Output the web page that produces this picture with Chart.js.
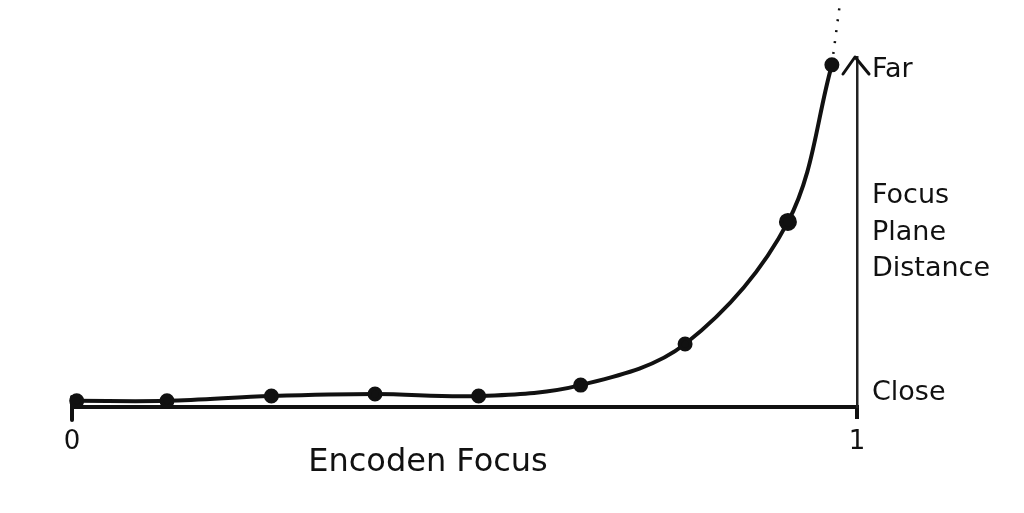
<!DOCTYPE html>
<html>
<head>
<meta charset="utf-8">
<script src="https://cdn.jsdelivr.net/npm/chart.js@4/dist/chart.umd.min.js"></script>
<style>
  html, body { margin: 0; padding: 0; background: #fff; }
  #wrap { width: 1024px; height: 513px; }
</style>
</head>
<body>
<div id="wrap"><canvas id="c" width="1024" height="513"></canvas></div>
<script>
// ---- data ----
const encoderFocus = [0.006, 0.121, 0.254, 0.386, 0.518, 0.648, 0.781, 0.912, 0.968];
const planeDistance = [0.018, 0.018, 0.032, 0.038, 0.032, 0.064, 0.184, 0.541, 1.0];
const extensionX = [0.968, 0.978];
const extensionY = [1.0, 1.175];
const xTickValues = [0, 1];
const xTickLabels = ['0', '1'];
const yTickValues = [0.041, 0.51, 0.985];
const yTickLabels = ['Close', ['Focus', 'Plane', 'Distance'], 'Far'];
const xTitle = 'Encoden Focus';

const FONT = '"DejaVu Sans", sans-serif';

const sketchAxes = {
  id: 'sketchAxes',
  afterDraw(chart) {
    const { ctx, chartArea, scales } = chart;
    const x0 = scales.x.getPixelForValue(0);
    const xr = chartArea.right;
    const yb = chartArea.bottom;
    const yt = chartArea.top;
    ctx.save();
    ctx.strokeStyle = '#111';
    ctx.lineCap = 'round';
    ctx.lineJoin = 'round';
    // upper part of the start tick
    ctx.lineWidth = 4;
    ctx.beginPath();
    ctx.moveTo(x0, yb - 10);
    ctx.lineTo(x0, yb + 13);
    ctx.stroke();
    // arrow head on the vertical axis
    ctx.lineWidth = 3;
    ctx.beginPath();
    ctx.moveTo(xr - 14, yt + 17);
    ctx.lineTo(xr - 2, yt);
    ctx.lineTo(xr + 12, yt + 17);
    ctx.stroke();
    // x axis title
    ctx.fillStyle = '#111';
    ctx.font = '32px ' + FONT;
    ctx.textAlign = 'center';
    ctx.textBaseline = 'middle';
    ctx.fillText(xTitle, 428, 463);
    ctx.restore();
  }
};

new Chart(document.getElementById('c'), {
  type: 'line',
  data: {
    datasets: [
      {
        data: encoderFocus.map((x, i) => ({ x, y: planeDistance[i] })),
        borderColor: '#111',
        backgroundColor: '#111',
        borderWidth: 4,
        pointRadius: (c) => (c.dataIndex === 7 ? 7 : 5.5),
        pointHoverRadius: 5.5,
        tension: 0.35,
        clip: false
      },
      {
        data: extensionX.map((x, i) => ({ x, y: extensionY[i] })),
        borderColor: '#111',
        borderWidth: 2.5,
        borderDash: [2, 9],
        pointRadius: 0,
        clip: false
      }
    ]
  },
  options: {
    responsive: false,
    animation: false,
    events: [],
    layout: { padding: { left: 72, right: 0, top: 57, bottom: 0 } },
    plugins: { legend: { display: false }, tooltip: { enabled: false } },
    scales: {
      x: {
        type: 'linear',
        min: 0,
        max: 1,
        afterFit: s => { s.height = 106; },
        afterBuildTicks: s => { s.ticks = xTickValues.map(v => ({ value: v })); },
        ticks: {
          callback: (v) => xTickLabels[xTickValues.indexOf(v)],
          color: '#111',
          font: { family: FONT, size: 26 },
          padding: 8,
          maxRotation: 0
        },
        grid: { drawOnChartArea: false, drawTicks: true, tickLength: 12, lineWidth: 4, color: '#111' },
        border: { display: true, color: '#111', width: 4 }
      },
      y: {
        type: 'linear',
        position: 'right',
        min: 0,
        max: 1.023,
        afterFit: s => { s.width = 167; },
        afterBuildTicks: s => { s.ticks = yTickValues.map(v => ({ value: v })); },
        ticks: {
          callback: (v) => yTickLabels[yTickValues.indexOf(v)],
          color: '#111',
          font: { family: FONT, size: 27, lineHeight: 1.35 },
          padding: 15,
          crossAlign: 'near'
        },
        grid: { drawOnChartArea: false, drawTicks: false },
        border: { display: true, color: '#222', width: 2.5 }
      }
    }
  },
  plugins: [sketchAxes]
});
</script>
</body>
</html>
